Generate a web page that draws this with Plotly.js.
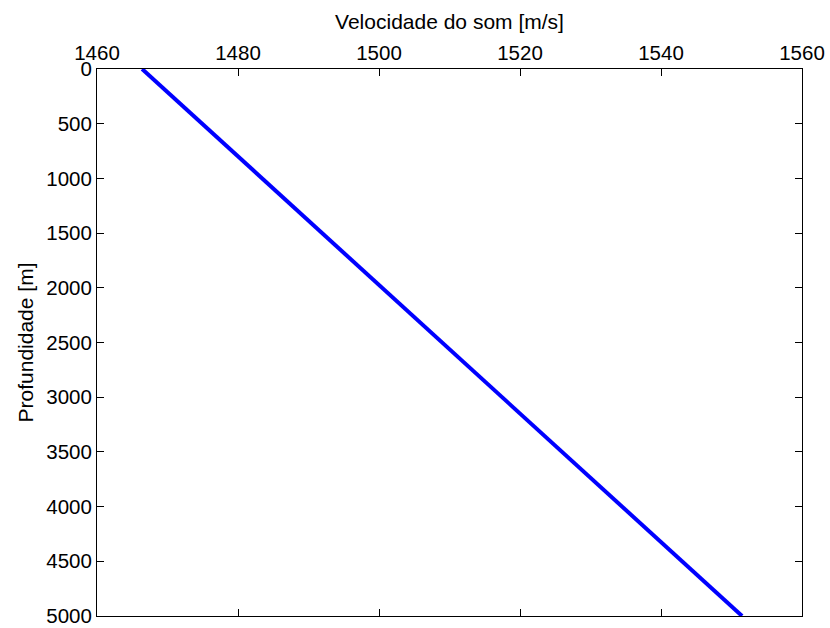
<!DOCTYPE html>
<html>
<head>
<meta charset="utf-8">
<script src="https://cdn.plot.ly/plotly-3.0.1.min.js"></script>
<style>html,body{margin:0;padding:0;background:#fff;}#chart{width:830px;height:628px;}</style>
</head>
<body>
<div id="chart"></div>
<script>
// Depth [m] and sound speed [m/s]
var depth = [0, 500, 1000, 1500, 2000, 2500, 3000, 3500, 4000, 4500, 5000];
var speed = [1466.4, 1474.9, 1483.4, 1491.9, 1500.4, 1509.0, 1517.5, 1526.0, 1534.5, 1543.0, 1551.5];
var xTicks = [1460, 1480, 1500, 1520, 1540, 1560];
var yTicks = [0, 500, 1000, 1500, 2000, 2500, 3000, 3500, 4000, 4500, 5000];
var xTitle = 'Velocidade do som [m/s]';
var yTitle = 'Profundidade [m]';

var fontFam = 'Liberation Sans, Arial, sans-serif';
var trace = {
  x: speed, y: depth, type: 'scatter', mode: 'lines',
  line: {color: '#0000ff', width: 4}, hoverinfo: 'skip'
};
var layout = {
  width: 830, height: 628,
  margin: {l: 97, r: 28, t: 69, b: 12, pad: 0},
  paper_bgcolor: '#fff', plot_bgcolor: '#fff',
  showlegend: false,
  font: {family: fontFam, color: '#000', size: 20.5},
  xaxis: {
    side: 'top', range: [1460, 1560], tickvals: xTicks, ticktext: xTicks.map(String),
    ticks: 'inside', ticklen: 7, tickcolor: '#000', tickwidth: 1,
    showline: true, linecolor: '#000', linewidth: 1, mirror: 'ticks',
    showgrid: false, zeroline: false,
    tickfont: {family: fontFam, size: 20.5, color: '#000'},
    title: {text: xTitle, font: {family: fontFam, size: 21, color: '#000'}, standoff: 5}
  },
  yaxis: {
    range: [5000, 0], tickvals: yTicks, ticktext: yTicks.map(String),
    ticks: 'inside', ticklen: 7, tickcolor: '#000', tickwidth: 1,
    showline: true, linecolor: '#000', linewidth: 1, mirror: 'ticks',
    showgrid: false, zeroline: false,
    tickfont: {family: fontFam, size: 20.5, color: '#000'},
    title: {text: yTitle, font: {family: fontFam, size: 21, color: '#000'}, standoff: 6}
  }
};
Plotly.newPlot('chart', [trace], layout, {staticPlot: true, displayModeBar: false});
</script>
</body>
</html>
